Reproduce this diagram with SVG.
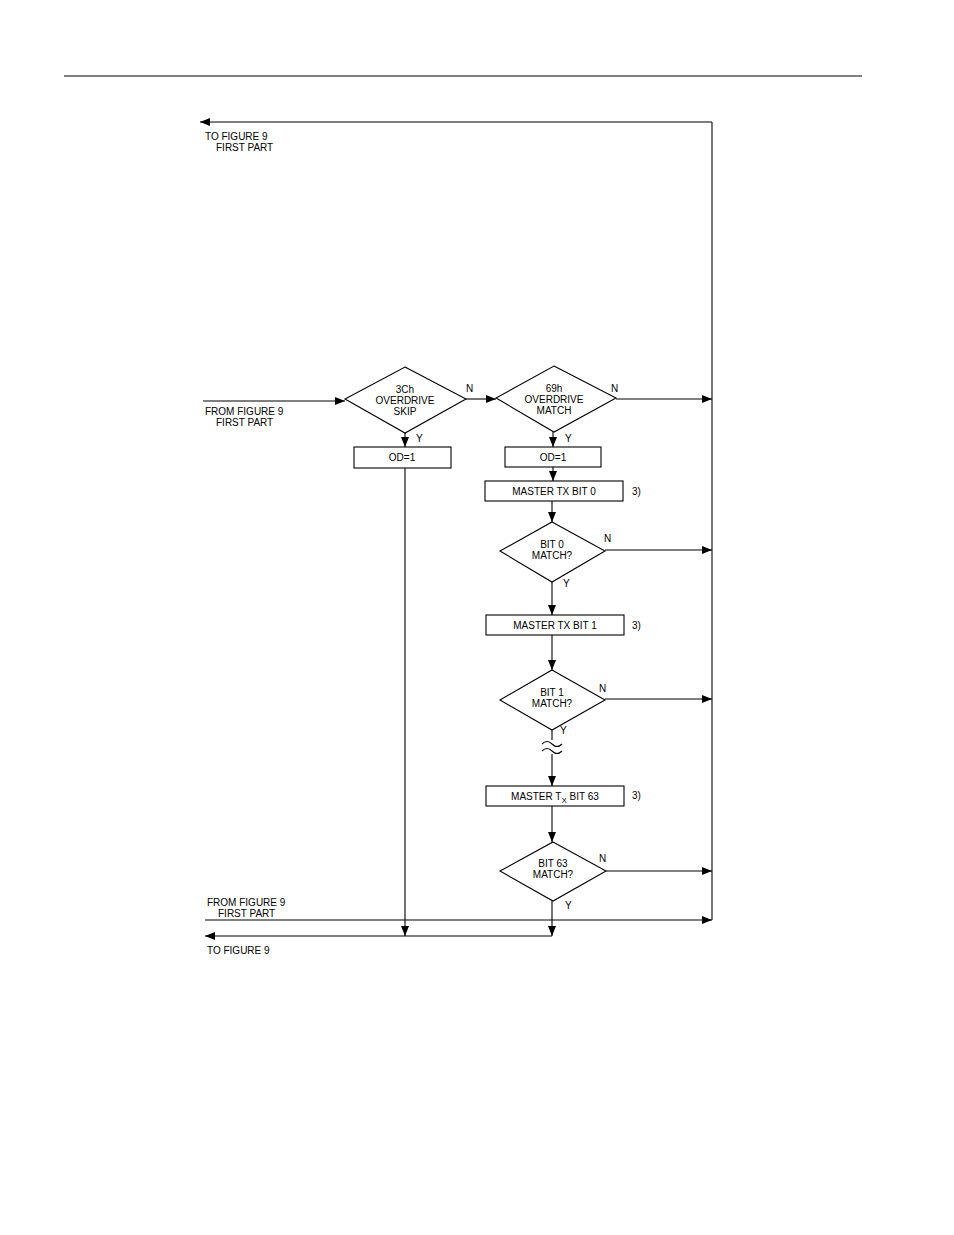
<svg xmlns="http://www.w3.org/2000/svg" width="954" height="1235" viewBox="0 0 954 1235">
<defs>
<marker id="a" viewBox="0 0 10 8" refX="10" refY="4" markerWidth="10" markerHeight="8" markerUnits="userSpaceOnUse" orient="auto"><path d="M0,0L10,4L0,8z" fill="#000"/></marker>
<style>
text{font-family:"Liberation Sans",Arial,sans-serif;font-size:10px;fill:#000}
.c{text-anchor:middle}
.s{fill:#fff;stroke:#000;stroke-width:1.1}
.l{fill:none;stroke:#000;stroke-width:1.1}
.ar{marker-end:url(#a)}
</style>
</defs>
<rect width="954" height="1235" fill="#fff"/>
<line x1="64" y1="76" x2="862" y2="76" stroke="#000" stroke-width="1"/>
<g id="connectors">
<path class="l ar" d="M712,122H200"/>
<path class="l" d="M712,122V920"/>
<path class="l ar" d="M203,401H345"/>
<path class="l ar" d="M466,399H496"/>
<path class="l ar" d="M616,399H712"/>
<path class="l ar" d="M405,433V447"/>
<path class="l ar" d="M405,468V936"/>
<path class="l ar" d="M553,432V447"/>
<path class="l ar" d="M553,467V481"/>
<path class="l ar" d="M552,501V522"/>
<path class="l ar" d="M605,550H712"/>
<path class="l ar" d="M552,582V615"/>
<path class="l ar" d="M552,635V670"/>
<path class="l ar" d="M605,699H712"/>
<path class="l" d="M552,730V740"/>
<path class="l" d="M542,744q5,-5 10,0t10,0M542,751q5,-5 10,0t10,0"/>
<path class="l ar" d="M552,754V786"/>
<path class="l ar" d="M552,806V842"/>
<path class="l ar" d="M606,871H712"/>
<path class="l ar" d="M552,901V936"/>
<path class="l ar" d="M205,920H712"/>
<path class="l ar" d="M552,936H205"/>
</g>
<g id="labels">
<text x="205" y="140">TO FIGURE 9</text><text x="216" y="151">FIRST PART</text>
<text x="205" y="415">FROM FIGURE 9</text><text x="216" y="426">FIRST PART</text>
<text x="207" y="906">FROM FIGURE 9</text><text x="218" y="917">FIRST PART</text>
<text x="207" y="954">TO FIGURE 9</text>
<text x="466" y="392">N</text><text x="611" y="392">N</text><text x="604" y="542">N</text><text x="599" y="692">N</text><text x="599" y="862">N</text>
<text x="416" y="442">Y</text><text x="565" y="442">Y</text><text x="563" y="587">Y</text><text x="560" y="734">Y</text><text x="565" y="909">Y</text>
<text x="632" y="495">3)</text><text x="632" y="629">3)</text><text x="632" y="799">3)</text>
</g>
<g id="d1"><path class="s" d="M405,367L466,399L405,433L345,399z"/><text class="c" x="405" y="393">3Ch</text><text class="c" x="405" y="404">OVERDRIVE</text><text class="c" x="405" y="415">SKIP</text></g>
<g id="d2"><path class="s" d="M554,366L616,398L554,432L496,398z"/><text class="c" x="554" y="392">69h</text><text class="c" x="554" y="403">OVERDRIVE</text><text class="c" x="554" y="414">MATCH</text></g>
<g id="b1"><rect class="s" x="354" y="447" width="97" height="21"/><text class="c" x="402" y="461">OD=1</text></g>
<g id="b2"><rect class="s" x="505" y="447" width="96" height="20"/><text class="c" x="553" y="461">OD=1</text></g>
<g id="b3"><rect class="s" x="485" y="481" width="138" height="20"/><text class="c" x="554" y="495">MASTER TX BIT 0</text></g>
<g id="d3"><path class="s" d="M552,522L605,551L552,582L500,551z"/><text class="c" x="552" y="548">BIT 0</text><text class="c" x="552" y="559">MATCH?</text></g>
<g id="b4"><rect class="s" x="486" y="615" width="138" height="20"/><text class="c" x="555" y="629">MASTER TX BIT 1</text></g>
<g id="d4"><path class="s" d="M552,670L605,700L552,730L500,700z"/><text class="c" x="552" y="696">BIT 1</text><text class="c" x="552" y="707">MATCH?</text></g>
<g id="b5"><rect class="s" x="486" y="786" width="138" height="20"/><text class="c" x="555" y="800">MASTER T<tspan font-size="8" dy="3">X</tspan><tspan dy="-3"> BIT 63</tspan></text></g>
<g id="d5"><path class="s" d="M553,842L606,871L553,901L500,871z"/><text class="c" x="553" y="867">BIT 63</text><text class="c" x="553" y="878">MATCH?</text></g>
</svg>
